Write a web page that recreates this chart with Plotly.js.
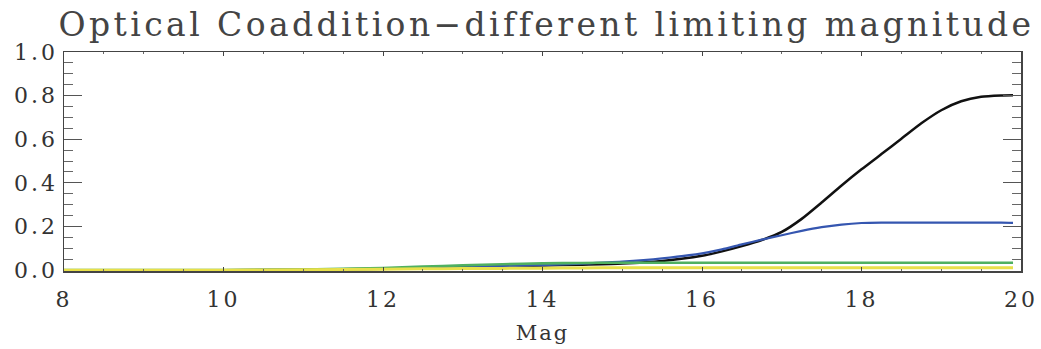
<!DOCTYPE html>
<html>
<head>
<meta charset="utf-8">
<script src="https://cdn.plot.ly/plotly-3.0.1.min.js"></script>
<style>
html,body{margin:0;padding:0;background:#fff;}
#chart{width:1041px;height:349px;}
#chart .gtitle{letter-spacing:3.4px;}
#chart .xtick text, #chart .ytick text{letter-spacing:3px;}
#chart .xtitle{letter-spacing:2px;}
</style>
</head>
<body>
<div id="chart"></div>
<script>
// Magnitude grid
const mag = [8, 9, 10, 11, 12, 12.5, 13, 13.5, 14, 14.5, 15, 15.5, 16, 16.25, 16.5, 16.75, 17, 17.25, 17.5, 17.75, 18, 18.25, 18.5, 18.75, 19, 19.25, 19.5, 19.75, 19.9];

// Series values
const blackVals  = [0, 0, 0, 0.002, 0.006, 0.009, 0.013, 0.017, 0.021, 0.025, 0.030, 0.042, 0.066, 0.086, 0.110, 0.138, 0.175, 0.235, 0.310, 0.388, 0.462, 0.532, 0.602, 0.673, 0.733, 0.774, 0.795, 0.801, 0.802];
const blueVals   = [0, 0, 0, 0.002, 0.006, 0.009, 0.013, 0.018, 0.023, 0.030, 0.039, 0.054, 0.077, 0.095, 0.118, 0.140, 0.160, 0.180, 0.197, 0.209, 0.216, 0.218, 0.218, 0.218, 0.218, 0.218, 0.218, 0.218, 0.217];
const greenVals  = [0, 0, 0, 0.003, 0.010, 0.016, 0.022, 0.027, 0.031, 0.033, 0.034, 0.034, 0.034, 0.034, 0.034, 0.034, 0.034, 0.034, 0.034, 0.034, 0.034, 0.034, 0.034, 0.034, 0.034, 0.034, 0.034, 0.034, 0.034];
const yellowVals = [0, 0, 0, 0.002, 0.004, 0.006, 0.007, 0.008, 0.009, 0.010, 0.011, 0.011, 0.011, 0.011, 0.011, 0.011, 0.011, 0.011, 0.011, 0.011, 0.011, 0.011, 0.011, 0.011, 0.011, 0.011, 0.011, 0.011, 0.011];

const seriesNames  = ['black', 'blue', 'green', 'yellow'];
const seriesColors = ['#111111', '#3556b0', '#4fb060', '#e8e04a'];
const seriesWidths = [2.5, 2.2, 2.6, 3];
const seriesData   = [blackVals, blueVals, greenVals, yellowVals];

const FONT = 'DejaVu Serif, Liberation Serif, serif';

const traces = seriesData.map((vals, i) => ({
  x: mag,
  y: vals,
  type: 'scatter',
  mode: 'lines',
  name: seriesNames[i],
  line: {color: seriesColors[i], width: seriesWidths[i], shape: 'spline', smoothing: 0.6},
  hoverinfo: 'skip'
}));

const layout = {
  width: 1041,
  height: 349,
  margin: {l: 64, r: 20, t: 52, b: 78},
  paper_bgcolor: '#ffffff',
  plot_bgcolor: '#ffffff',
  showlegend: false,
  title: {
    text: 'Optical Coaddition\u2212different limiting magnitude',
    font: {family: FONT, size: 33, color: '#444444'},
    x: 0.525, xanchor: 'center',
    y: 0.93, yanchor: 'middle'
  },
  xaxis: {
    range: [8, 20],
    tickmode: 'linear', tick0: 8, dtick: 2,
    ticks: 'inside', ticklen: 4, tickwidth: 1, tickcolor: '#444',
    minor: {dtick: 0.5, ticks: 'inside', ticklen: 2, tickcolor: '#666', tickwidth: 1},
    showline: true, linecolor: '#444', linewidth: 1.5, mirror: 'allticks',
    showgrid: false, zeroline: false,
    ticklabelstandoff: 8,
    tickfont: {family: FONT, size: 22, color: '#333333'},
    title: {text: 'Mag', font: {family: FONT, size: 21, color: '#333333'}, standoff: 14}
  },
  yaxis: {
    range: [-0.004, 1.0],
    tickmode: 'linear', tick0: 0, dtick: 0.2,
    tickformat: '.1f',
    ticks: 'inside', ticklen: 18, tickwidth: 1, tickcolor: '#555',
    minor: {dtick: 0.05, ticks: 'inside', ticklen: 9, tickcolor: '#666', tickwidth: 1},
    showline: true, linecolor: '#444', linewidth: 1.5, mirror: 'allticks',
    showgrid: false, zeroline: false,
    tickfont: {family: FONT, size: 22, color: '#333333'}
  }
};

Plotly.newPlot('chart', traces, layout, {displayModeBar: false, staticPlot: true});
</script>
</body>
</html>
